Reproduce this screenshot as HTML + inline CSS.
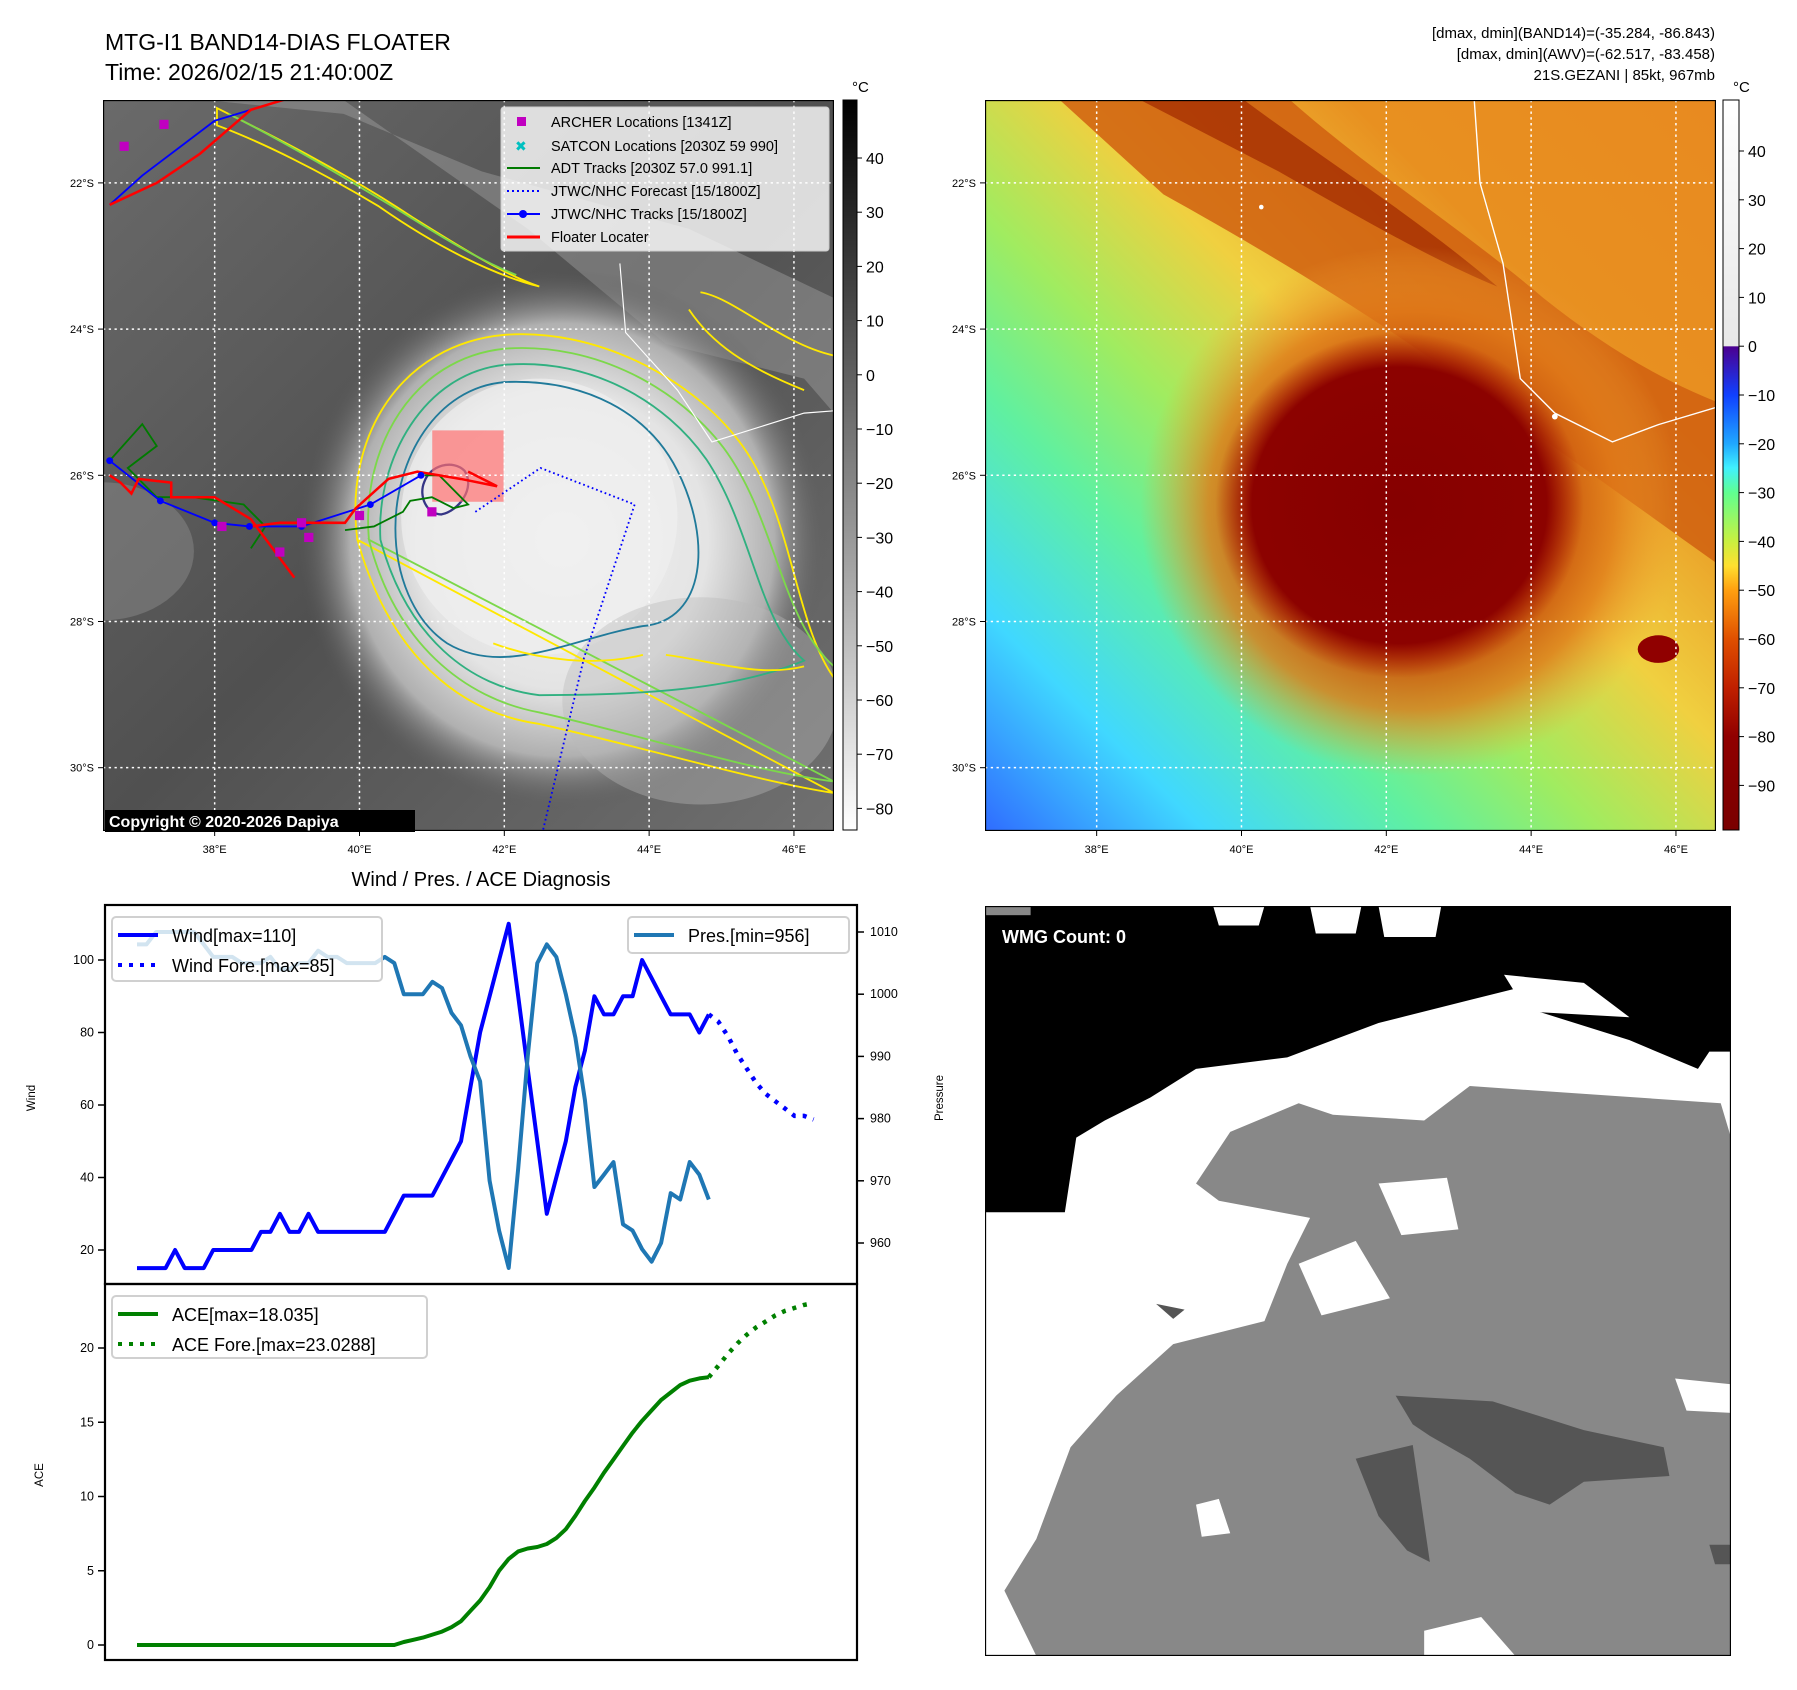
<!DOCTYPE html>
<html><head><meta charset="utf-8"><style>
html,body{margin:0;padding:0;background:#fff;}
svg{display:block;font-family:"Liberation Sans","DejaVu Sans",sans-serif;}
</style></head><body>
<svg id="root" width="1797" height="1690" viewBox="0 0 1797 1690" xmlns="http://www.w3.org/2000/svg">
<defs>
 <radialGradient id="stormGray" cx="0.5" cy="0.5" r="0.5">
  <stop offset="0" stop-color="#f2f2f2"/><stop offset="0.55" stop-color="#e4e4e4"/><stop offset="0.8" stop-color="#b0b0b0"/><stop offset="1" stop-color="#5a5a5a" stop-opacity="0"/>
 </radialGradient>
 <linearGradient id="bgGray" x1="0" y1="0" x2="1" y2="1">
  <stop offset="0" stop-color="#6a6a6a"/><stop offset="0.5" stop-color="#505050"/><stop offset="1" stop-color="#707070"/>
 </linearGradient>
 <linearGradient id="cb1" x1="0" y1="0" x2="0" y2="1"><stop offset="0" stop-color="#000"/><stop offset="1" stop-color="#fff"/></linearGradient>
 <linearGradient id="bg2" x1="0" y1="1" x2="1" y2="0">
  <stop offset="0" stop-color="#2f6cff"/><stop offset="0.15" stop-color="#40d8ff"/><stop offset="0.3" stop-color="#60f0a0"/><stop offset="0.42" stop-color="#a0ec60"/><stop offset="0.56" stop-color="#f0d040"/><stop offset="0.75" stop-color="#e89020"/><stop offset="1" stop-color="#e88a20"/>
 </linearGradient>
 <radialGradient id="storm2" cx="0.5" cy="0.5" r="0.5">
  <stop offset="0" stop-color="#b03000"/><stop offset="0.5" stop-color="#c04808"/><stop offset="0.75" stop-color="#e07818" stop-opacity="0.8"/><stop offset="1" stop-color="#f0a030" stop-opacity="0"/>
 </radialGradient>
 <radialGradient id="core2" cx="0.5" cy="0.5" r="0.5">
  <stop offset="0" stop-color="#860000"/><stop offset="0.8" stop-color="#8c0200"/><stop offset="1" stop-color="#a81800" stop-opacity="0"/>
 </radialGradient>
 <linearGradient id="cb2" x1="0" y1="0" x2="0" y2="1">
  <stop offset="0" stop-color="#ffffff"/><stop offset="0.337" stop-color="#e8e8e8"/><stop offset="0.338" stop-color="#4b0090"/>
  <stop offset="0.404" stop-color="#1040ff"/><stop offset="0.471" stop-color="#20a8ff"/><stop offset="0.504" stop-color="#40f0ff"/>
  <stop offset="0.538" stop-color="#60ff90"/><stop offset="0.604" stop-color="#c8f040"/><stop offset="0.638" stop-color="#ffe030"/>
  <stop offset="0.671" stop-color="#ffa010"/><stop offset="0.738" stop-color="#e05000"/><stop offset="0.805" stop-color="#c02000"/>
  <stop offset="0.872" stop-color="#900000"/><stop offset="1" stop-color="#7a0000"/>
 </linearGradient>
 <clipPath id="clip1"><rect x="91" y="88" width="635" height="635"/></clipPath>
 <clipPath id="clip2"><rect x="855" y="88" width="635" height="635"/></clipPath>
</defs>

<text x="105" y="50" font-size="23">MTG-I1 BAND14-DIAS FLOATER</text>
<text x="105" y="80" font-size="23">Time: 2026/02/15 21:40:00Z</text>
<g font-size="15" text-anchor="end">
 <text x="1715" y="38">[dmax, dmin](BAND14)=(-35.284, -86.843)</text>
 <text x="1715" y="59">[dmax, dmin](AWV)=(-62.517, -83.458)</text>
 <text x="1715" y="80">21S.GEZANI | 85kt, 967mb</text>
</g>

<svg x="103" y="100" width="731" height="731" viewBox="91 88 635 635">
 <g clip-path="url(#clip1)">
  <rect x="91" y="88" width="635" height="635" fill="url(#bgGray)"/>
  <path d="M180,88 L300,88 L460,200 L580,300 L700,330 L726,360 L726,260 L600,200 L420,150 L300,100Z" fill="#9a9a9a" opacity="0.5"/>
  <ellipse cx="90" cy="480" rx="80" ry="60" fill="#8a8a8a" opacity="0.5"/>
  <ellipse cx="490" cy="470" rx="230" ry="235" fill="url(#stormGray)"/>
  <ellipse cx="470" cy="450" rx="120" ry="120" fill="#f0f0f0" opacity="0.7"/>
  <ellipse cx="610" cy="610" rx="120" ry="90" fill="#b8b8b8" opacity="0.4"/>
  <g fill="none" stroke-width="1.6">
   <path d="M312,470 C300,380 350,300 440,292 C520,286 600,330 640,380 C690,440 690,540 726,590 M726,690 C660,680 560,650 470,630 C400,620 340,570 312,470Z" stroke="#ffe800"/>
   <path d="M322,470 C315,390 360,312 440,304 C520,298 592,340 630,390 C675,450 680,540 726,580 M726,680 C650,670 560,640 470,620 C405,608 345,560 322,470Z" stroke="#7cd84a"/>
   <path d="M332,470 C328,400 370,325 440,318 C515,312 580,350 615,400 C655,460 660,540 700,575 C640,600 560,605 470,605 C410,598 355,555 332,470Z" stroke="#30b080"/>
   <path d="M345,460 C345,400 380,338 440,333 C510,330 565,360 590,410 C620,470 615,540 560,545 C500,555 440,590 390,560 C360,540 345,500 345,460Z" stroke="#207a9a"/>
   <path d="M370,420 C375,405 395,400 405,410 C415,425 400,445 385,448 C372,448 365,432 370,420Z" stroke="#353585" stroke-width="2"/>
   <path d="M190,95 C240,120 300,150 360,190 C400,215 440,240 470,250 C430,240 380,215 330,180 C280,150 230,125 190,110Z" stroke="#ffe800"/>
   <path d="M200,100 C250,125 300,155 350,185 C390,210 420,228 450,240" stroke="#7cd84a"/>
   <path d="M430,560 C470,575 520,580 560,570 M580,570 C620,575 660,590 700,580" stroke="#ffe800"/>
   <path d="M610,255 C640,260 680,300 726,310 M600,270 C620,300 650,320 700,340" stroke="#ffe800"/>
  </g>
  <path d="M540,230 L545,290 L590,340 L620,385 L700,360 L726,358" fill="none" stroke="#fff" stroke-width="1"/>
  <rect x="377" y="375" width="62" height="62" fill="#ff7070" opacity="0.7"/>
  <g fill="none" stroke="#ffffff" stroke-width="1.3" stroke-dasharray="2,3" id="grid1"></g>
  <g id="tracks1"></g>
 </g>
 <rect x="91" y="88" width="635" height="635" fill="none" stroke="#000" stroke-width="2"/>
</svg>
<rect x="105" y="810" width="310" height="22" fill="#000"/>
<text x="109" y="827" font-size="16" font-weight="bold" fill="#fff">Copyright © 2020-2026 Dapiya</text>

<g>
 <rect x="501" y="107" width="328" height="144" rx="3" fill="#fff" fill-opacity="0.8" stroke="#ccc"/>
 <g font-size="14.5">
  <rect x="517" y="117" width="9" height="9" fill="#c000c0"/><text x="551" y="127">ARCHER Locations [1341Z]</text>
  <text x="515" y="151" fill="#00c0c0" font-size="14">✖</text><text x="551" y="151">SATCON Locations [2030Z 59 990]</text>
  <line x1="507" y1="168" x2="540" y2="168" stroke="#007a00" stroke-width="2"/><text x="551" y="173">ADT Tracks [2030Z 57.0 991.1]</text>
  <line x1="507" y1="191" x2="540" y2="191" stroke="#0000ff" stroke-width="2" stroke-dasharray="2,3"/><text x="551" y="196">JTWC/NHC Forecast [15/1800Z]</text>
  <line x1="507" y1="214" x2="540" y2="214" stroke="#0000ff" stroke-width="2"/><circle cx="523" cy="214" r="4" fill="#0000ff"/><text x="551" y="219">JTWC/NHC Tracks [15/1800Z]</text>
  <line x1="507" y1="237" x2="540" y2="237" stroke="#ff0000" stroke-width="3"/><text x="551" y="242">Floater Locater</text>
 </g>
</g>

<rect x="843" y="100" width="14" height="730" fill="url(#cb1)" stroke="#000" stroke-width="1"/>
<text x="852" y="92" font-size="15">°C</text>
<g id="cb1ticks" font-size="16"></g>

<svg x="985" y="100" width="731" height="731" viewBox="855 88 635 635">
 <g clip-path="url(#clip2)">
  <rect x="855" y="88" width="635" height="635" fill="url(#bg2)"/>
  <path d="M920,88 L1120,88 C1190,150 1270,200 1340,260 C1390,300 1440,330 1490,350 L1490,490 C1420,440 1350,390 1280,340 C1200,280 1100,220 1010,170Z" fill="#d06010" opacity="0.85"/>
  <path d="M990,88 L1080,88 C1150,140 1230,190 1300,250 C1250,230 1180,190 1110,150Z" fill="#a02800" opacity="0.7"/>
  <ellipse cx="1225" cy="445" rx="235" ry="230" fill="url(#storm2)"/>
  <ellipse cx="1215" cy="440" rx="160" ry="150" fill="url(#core2)"/>
  <ellipse cx="1440" cy="565" rx="18" ry="12" fill="#900000"/>
  <path d="M1280,88 L1285,160 L1305,230 L1320,330 L1350,360 L1400,385 L1440,370 L1490,355" fill="none" stroke="#fff" stroke-width="1.2"/>
  <circle cx="1095" cy="181" r="2" fill="#fff"/><circle cx="1350" cy="363" r="2.5" fill="#fff"/>
  <g fill="none" stroke="#ffffff" stroke-width="1.3" stroke-dasharray="2,3" id="grid2"></g>
 </g>
 <rect x="855" y="88" width="635" height="635" fill="none" stroke="#000" stroke-width="2"/>
</svg>
<rect x="1723" y="100" width="16" height="730" fill="url(#cb2)" stroke="#000" stroke-width="1"/>
<text x="1733" y="92" font-size="15">°C</text>
<g id="cb2ticks" font-size="16"></g>
<g id="mapticks" font-size="11"></g>

<svg x="985" y="906" width="746" height="750" viewBox="855 788 654 654" preserveAspectRatio="none">
 <rect x="855" y="788" width="654" height="654" fill="#fff"/>
 <path d="M855,788 L1509,788 L1509,915 L1490,915 L1480,930 L1420,905 L1340,880 L1320,860 L1280,870 L1240,880 L1200,890 L1160,905 L1120,920 L1040,930 L1000,955 L960,975 L935,990 L925,1055 L855,1055Z" fill="#000"/>
 <path d="M1055,788 L1100,788 L1095,805 L1060,805Z M1140,788 L1185,788 L1180,812 L1145,812Z M1200,788 L1255,788 L1250,815 L1205,815Z M1310,848 L1380,855 L1400,870 L1420,885 L1330,880Z" fill="#fff"/>
 <rect x="855" y="788" width="40" height="8" fill="#888"/>
 <path d="M900,1442 L872,1385 L900,1340 L930,1260 L970,1215 L1020,1170 L1100,1150 L1120,1100 L1140,1060 L1060,1045 L1040,1030 L1070,985 L1130,960 L1160,970 L1240,975 L1280,945 L1500,960 L1509,990 L1509,1442Z" fill="#888"/>
 <path d="M1200,1030 L1260,1025 L1270,1070 L1220,1075Z M1130,1100 L1180,1080 L1210,1130 L1150,1145Z M1040,1310 L1060,1305 L1070,1335 L1045,1338Z M1460,1200 L1509,1205 L1509,1230 L1470,1228Z M1240,1420 L1290,1408 L1320,1442 L1240,1442Z" fill="#fff"/>
 <path d="M1215,1215 L1300,1220 L1380,1245 L1450,1260 L1455,1285 L1380,1290 L1350,1310 L1320,1300 L1280,1270 L1245,1250 L1230,1240Z M1180,1270 L1230,1258 L1245,1360 L1225,1350 L1200,1320Z M1490,1345 L1509,1345 L1509,1362 L1495,1362Z M1005,1135 L1030,1140 L1020,1148Z" fill="#555"/>
 <rect x="855" y="788" width="654" height="654" fill="none" stroke="#000" stroke-width="2"/>
</svg>
<text x="1002" y="943" font-size="18" font-weight="bold" fill="#fff">WMG Count: 0</text>

<text x="481" y="886" font-size="20" text-anchor="middle">Wind / Pres. / ACE Diagnosis</text>
<g id="charts"></g>
</svg>

<script>
const windObs = [15,15,15,15,20,15,15,15,20,20,20,20,20,25,25,30,25,25,30,25,25,25,25,25,25,25,25,30,35,35,35,35,40,45,50,65,80,90,100,110,90,70,50,30,40,50,65,75,90,85,85,90,90,100,95,90,85,85,85,80,85];
const windFcst = [85,83,79,74,70,66,63,61,59,57,57,56];
const presObs = [1008,1008,1010,1010,1010,1010,1010,1008,1006,1006,1006,1005,1005,1005,1006,1004,1004,1005,1005,1007,1006,1006,1005,1005,1005,1005,1006,1005,1000,1000,1000,1002,1001,997,995,990,986,970,962,956,972,990,1005,1008,1006,1000,993,983,969,971,973,963,962,959,957,960,968,967,973,971,967];
const aceObs = [0,0,0,0,0,0,0,0,0,0,0,0,0,0,0,0,0,0,0,0,0,0,0,0,0,0,0,0,0.2,0.35,0.5,0.7,0.9,1.2,1.6,2.3,3.0,3.9,5.0,5.8,6.3,6.5,6.6,6.8,7.2,7.8,8.7,9.7,10.6,11.6,12.5,13.4,14.3,15.1,15.8,16.5,17.0,17.5,17.8,17.95,18.035];
const aceFcst = [18.035,18.8,19.6,20.3,20.9,21.4,21.8,22.2,22.5,22.7,22.9,23.03];
const windTicks = [20,40,60,80,100];
const presTicks = [960,970,980,990,1000,1010];
const aceTicks = [0,5,10,15,20];
const ir_ticks = [40,30,20,10,0,-10,-20,-30,-40,-50,-60,-70,-80];
const awv_ticks = [40,30,20,10,0,-10,-20,-30,-40,-50,-60,-70,-80,-90];
const lonTicks = [38,40,42,44,46];
const latTicks = [22,24,26,28,30];

const NS='http://www.w3.org/2000/svg';
function mk(tag, attrs, parent){const e=document.createElementNS(NS,tag);for(const k in attrs)e.setAttribute(k,attrs[k]);parent.appendChild(e);return e;}
const X = i => 137 + i*9.53;
const W = v => 1250 - (v-20)*3.625;
const P = p => 932 + (1010-p)*6.22;
const A = a => 1645 - a*14.85;
const charts=document.getElementById('charts');
let el;

el=mk('rect',{x:105,y:905,width:752,height:379,fill:'none',stroke:'#000','stroke-width':2.2},charts);


el=mk('rect',{x:105,y:1284,width:752,height:376,fill:'none',stroke:'#000','stroke-width':2.2},charts);



function pl(xs, ys, color, w, dash, name){
  const pts = ys.map((v,i)=>xs(i).toFixed(1)+','+v.toFixed(1)).join(' ');
  const a={points:pts,fill:'none',stroke:color,'stroke-width':w,'stroke-linejoin':'round'};
  if(dash) a['stroke-dasharray']=dash;
  const p=mk('polyline',a,charts);
  
  
}
pl(i=>X(i), windObs.map(W), '#0000ff', 4, null, 'wind-line');
pl(i=>X(i+60), windFcst.map(W), '#0000ff', 4.5, '4,7', 'wind-forecast-line');
pl(i=>X(i), presObs.map(P), '#1f77b4', 4, null, 'pressure-line');
pl(i=>X(i), aceObs.map(A), '#008000', 4, null, 'ace-line');
pl(i=>X(i+60), aceFcst.map(A), '#008000', 4.5, '4,7', 'ace-forecast-line');

const tg=mk('g',{'font-size':12.5},charts);
windTicks.forEach(v=>{mk('line',{x1:98,x2:105,y1:W(v),y2:W(v),stroke:'#000','stroke-width':1.5},tg);
  el=mk('text',{x:94,y:W(v)+4,'text-anchor':'end'},tg);el.textContent=v;
  
  });
presTicks.forEach(v=>{mk('line',{x1:857,x2:864,y1:P(v),y2:P(v),stroke:'#000','stroke-width':1.5},tg);
  el=mk('text',{x:870,y:P(v)+4},tg);el.textContent=v;
  
  });
aceTicks.forEach(v=>{mk('line',{x1:98,x2:105,y1:A(v),y2:A(v),stroke:'#000','stroke-width':1.5},tg);
  el=mk('text',{x:94,y:A(v)+4,'text-anchor':'end'},tg);el.textContent=v;
  
  });
el=mk('text',{x:0,y:0,transform:'translate(35,1098) rotate(-90)','text-anchor':'middle','font-size':11.5},charts);el.textContent='Wind';


el=mk('text',{x:0,y:0,transform:'translate(943,1098) rotate(-90)','text-anchor':'middle','font-size':11.5},charts);el.textContent='Pressure';


el=mk('text',{x:0,y:0,transform:'translate(43,1475) rotate(-90)','text-anchor':'middle','font-size':11.5},charts);el.textContent='ACE';



function legend(x,y,w,h,items,name){
  const g=mk('g',{},charts);
  
  
  mk('rect',{x:x,y:y,width:w,height:h,rx:4,fill:'#fff','fill-opacity':0.8,stroke:'#d0d0d0','stroke-width':2},g);
  items.forEach((it,k)=>{const yy=y+18+k*30;
    const a={x1:x+6,x2:x+46,y1:yy,y2:yy,stroke:it[1],'stroke-width':4};if(it[2])a['stroke-dasharray']=it[2];
    mk('line',a,g);
    const t=mk('text',{x:x+60,y:yy+7,'font-size':18},g);t.textContent=it[0];});
}
legend(112,917,270,64,[['Wind[max=110]','#0000ff'],['Wind Fore.[max=85]','#0000ff','4,7']],'wind-legend');
legend(628,917,221,36,[['Pres.[min=956]','#1f77b4']],'pressure-legend');
legend(112,1296,315,62,[['ACE[max=18.035]','#008000'],['ACE Fore.[max=23.0288]','#008000','4,7']],'ace-legend');

const LX = lon => 188 + (lon-38)*62.9;
const LY = lat => 160 + (lat-22)*63.5;
['grid1','grid2'].forEach((gid,n)=>{const g=document.getElementById(gid);const off=n?764:0;
  lonTicks.forEach(l=>mk('line',{x1:LX(l)+off,x2:LX(l)+off,y1:88,y2:723},g));
  latTicks.forEach(l=>mk('line',{x1:91+off,x2:726+off,y1:LY(l),y2:LY(l)},g));});
const mt=document.getElementById('mapticks');
[0,882].forEach(off=>{
  lonTicks.forEach(l=>{const x=103+(LX(l)-91)*1.1512+off;
    mk('line',{x1:x,x2:x,y1:831,y2:836,stroke:'#000'},mt);
    el=mk('text',{x:x,y:853,'text-anchor':'middle'},mt);el.textContent=l+'°E';
    
    });
  latTicks.forEach(l=>{const y=100+(LY(l)-88)*1.1512;
    mk('line',{x1:98+off,x2:103+off,y1:y,y2:y,stroke:'#000'},mt);
    el=mk('text',{x:94+off,y:y+4,'text-anchor':'end'},mt);el.textContent=l+'°S';
    
    });
});
const cbt1=document.getElementById('cb1ticks');
ir_ticks.forEach(v=>{const y=100+(50.7-v)*5.42;
  mk('line',{x1:857,x2:862,y1:y,y2:y,stroke:'#000'},cbt1);
  el=mk('text',{x:866,y:y+6},cbt1);el.textContent=(v<0?'\u2212'+(-v):v);
  
  });
const cbt2=document.getElementById('cb2ticks');
awv_ticks.forEach(v=>{const y=151+(40-v)*4.88;
  mk('line',{x1:1739,x2:1744,y1:y,y2:y,stroke:'#000'},cbt2);
  el=mk('text',{x:1748,y:y+6},cbt2);el.textContent=(v<0?'\u2212'+(-v):v);
  
  });

const OX = lon => LX(lon), OY = lat => LY(lat);
const trackBlueLon=[36.55,37.25,38.0,38.48,39.2,40.15,40.85], trackBlueLat=[25.8,26.35,26.65,26.7,26.7,26.4,26.0];
const trackBlue2Lon=[36.55,37.0,38.0,39.0], trackBlue2Lat=[22.3,21.9,21.15,20.85];
const fcstLon=[41.6,42.5,43.8,43.1,42.5], fcstLat=[26.5,25.9,26.4,28.5,31.0];
const redLon=[36.55,36.7,36.85,36.95,37.4,37.4,38.0,38.5,39.1], redLat=[26.0,26.1,26.25,26.05,26.1,26.3,26.3,26.6,27.4];
const red2Lon=[38.5,38.9,39.8,39.95,40.4,40.8,41.4,41.9,41.5], red2Lat=[26.7,26.65,26.65,26.45,26.05,25.95,26.05,26.15,25.95];
const red3Lon=[36.55,37.2,37.8,38.5,39.0], red3Lat=[22.3,22.0,21.6,21.0,20.85];
const adtLon=[36.55,37.0,37.2,36.8,37.2,37.7,38.4,38.7,38.5], adtLat=[25.8,25.3,25.6,25.9,26.3,26.3,26.4,26.7,27.0];
const adt2Lon=[39.8,40.2,40.6,40.7,41.0,41.3,41.5,41.1,40.9], adt2Lat=[26.75,26.7,26.5,26.35,26.3,26.45,26.4,26.0,26.0];
const tr=document.getElementById('tracks1');
function trk(lons,lats,color,w,dash,name){const a={points:lons.map((l,i)=>OX(l)+','+OY(lats[i])).join(' '),fill:'none',stroke:color,'stroke-width':w};
  if(dash)a['stroke-dasharray']=dash;const p=mk('polyline',a,tr);
  
  }
trk(adtLon,adtLat,'#007a00',1.6,null,'adt-track');
trk(adt2Lon,adt2Lat,'#007a00',1.6,null,'adt-track-recent');
trk(trackBlueLon,trackBlueLat,'#0000ff',1.6,null,'jtwc-track');
trk(trackBlue2Lon,trackBlue2Lat,'#0000ff',1.6,null,'jtwc-track-north');
trk(fcstLon,fcstLat,'#0000ff',1.6,'1.5,2.5','jtwc-forecast');
trk(redLon,redLat,'#ff0000',2.2,null,'floater-track');
trk(red2Lon,red2Lat,'#ff0000',2.2,null,'floater-track-recent');
trk(red3Lon,red3Lat,'#ff0000',2.2,null,'floater-track-north');
trackBlueLon.forEach((l,i)=>mk('circle',{cx:OX(l),cy:OY(trackBlueLat[i]),r:3,fill:'#0000ff'},tr));
const archLon=[36.75,37.3,38.1,39.2,38.9,39.3,40.0,41.0], archLat=[21.5,21.2,26.7,26.65,27.05,26.85,26.55,26.5];
archLon.forEach((l,i)=>{el=mk('rect',{x:OX(l)-4,y:OY(archLat[i])-4,width:8,height:8,fill:'#c000c0'},tr);
  
  });
</script>
</body></html>
